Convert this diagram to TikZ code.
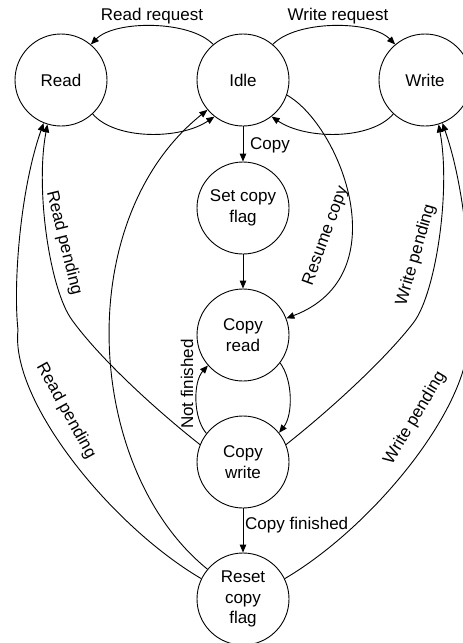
\documentclass[tikz,border=0pt]{standalone}
\usepackage{fontspec}
\setmainfont{Liberation Sans}
\usetikzlibrary{arrows.meta}
\begin{document}
\begin{tikzpicture}[x=1pt,y=-1pt,
  state/.style={circle,draw,line width=0.9pt,minimum size=92pt,inner sep=0pt,align=center,font=\fontsize{17}{20.5}\selectfont},
  lbl/.style={inner sep=0pt,font=\fontsize{17}{20.5}\selectfont},
  edge/.style={line width=0.9pt,-{Triangle[length=8pt,width=6.5pt]}}]
\useasboundingbox (0,0) rectangle (463,643);
\node[state] (read) at (61,80) {Read};
\node[state] (idle) at (243,80) {Idle};
\node[state] (write) at (425,80) {Write};
\node[state] (set) at (243,208) {Set copy\\flag};
\node[state] (cread) at (243,335) {Copy\\read};
\node[state] (cwrite) at (243,462) {Copy\\write};
\node[state] (reset) at (243,599) {Reset\\copy\\flag};
% top arcs
\draw[edge] (idle.130) .. controls (190,20) and (115,20) .. (read.50);
\draw[edge] (read.-47) .. controls (115,140) and (180,140) .. (idle.-128);
\draw[edge] (idle.50) .. controls (296,20) and (371,20) .. (write.130);
\draw[edge] (write.-133) .. controls (371,140) and (306,140) .. (idle.-52);
% vertical chain
\draw[edge] (idle) -- (set);
\draw[edge] (set) -- (cread);
\draw[edge] (cwrite) -- (reset);
\draw[edge] (idle.-19) .. controls (340,125) and (400,275) .. (cread.21);
\draw[edge] (cread.-37) .. controls (293,380) and (293,415) .. (cwrite.39);
\draw[edge] (cwrite.142) .. controls (193,418) and (193,382) .. (cread.-139);
% left side
\draw[edge] (cwrite.158) .. controls (150,405) and (98,356) .. (72,320)
  .. controls (50,290) and (35,190) .. (read.-107);
\draw[edge] (reset.154) .. controls (110,525) and (10,400) .. (18,330)
  .. controls (13,285) and (20,190) .. (read.-112);
\draw[edge] (reset.140) .. controls (85,470) and (70,220) .. (idle.-140);
% right side
\draw[edge] (cwrite.22) .. controls (336,405) and (388,356) .. (414,322)
  .. controls (436,292) and (451,190) .. (write.-73);
\draw[edge] (reset.26) .. controls (376,525) and (476,400) .. (468,330)
  .. controls (473,285) and (466,190) .. (write.-68);
% labels
\node[lbl] (lrr) at (152,16) {Read request};
\node[lbl] (lwr) at (338,16) {Write request};
\node[lbl,anchor=west] (lcopy) at (250,145) {Copy};
\node[lbl,rotate=70] (lres) at (326,236) {Resume copy};
\node[lbl,rotate=90] (lnf) at (187,384) {Not finished};
\node[lbl,anchor=west] (lcf) at (245,525) {Copy finished};
\node[lbl,rotate=-76] (lrp1) at (64,243) {Read pending};
\node[lbl,rotate=-61] (lrp2) at (66,411) {Read pending};
\node[lbl,rotate=74] (lwp1) at (416,255) {Write pending};
\node[lbl,rotate=59] (lwp2) at (415,418) {Write pending};
\end{tikzpicture}
\end{document}
